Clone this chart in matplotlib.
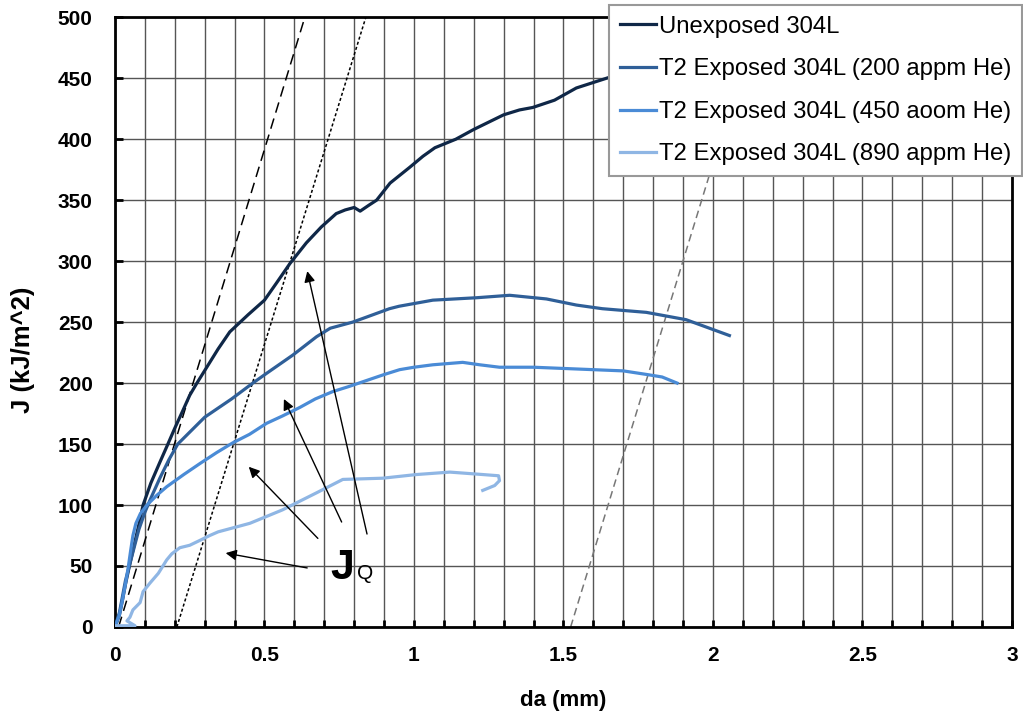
import numpy as np
import matplotlib
matplotlib.use("Agg")
import matplotlib.pyplot as plt
from matplotlib.ticker import MultipleLocator

plt.rcParams['font.family'] = ['Liberation Sans', 'DejaVu Sans']

# J-R curve data (da in mm, J in kJ/m^2)
da_unexp = [0, 0.015, 0.025, 0.035, 0.05, 0.065, 0.08, 0.094, 0.12, 0.15, 0.177, 0.2, 0.228, 0.25,
            0.274, 0.307, 0.345, 0.384, 0.445, 0.5, 0.54, 0.585, 0.64, 0.69, 0.74, 0.77, 0.80, 0.82,
            0.85, 0.875, 0.92, 0.986, 1.03, 1.07, 1.14, 1.2, 1.25, 1.3, 1.353, 1.397, 1.47, 1.543,
            1.644, 1.72]
J_unexp = [0, 10, 22, 35, 52, 68, 84, 100, 118, 135, 150, 163, 178, 190,
           200, 213, 228, 242, 256, 268, 282, 298, 315, 328, 339, 342, 344, 341,
           346, 350, 364, 377, 386, 393, 400, 408, 414, 420, 424, 426, 432, 442,
           450, 456]

da_200 = [0, 0.015, 0.025, 0.035, 0.05, 0.065, 0.08, 0.1, 0.117, 0.15, 0.18, 0.21, 0.3, 0.39, 0.461,
          0.507, 0.595, 0.674, 0.72, 0.795, 0.84, 0.918, 0.95, 1.063, 1.21, 1.32, 1.443, 1.543,
          1.63, 1.777, 1.91, 2.055]
J_200 = [0, 12, 25, 38, 52, 66, 80, 94, 104, 122, 137, 150, 172, 187, 200,
         208, 223, 238, 245, 250, 254, 261, 263, 268, 270, 272, 269, 264,
         261, 258, 252, 239]

da_450 = [0, 0.015, 0.025, 0.035, 0.045, 0.052, 0.06, 0.07, 0.085, 0.107, 0.14, 0.173, 0.23, 0.284,
          0.34, 0.394, 0.45, 0.507, 0.56, 0.618, 0.67, 0.728, 0.78, 0.84, 0.9, 0.952, 1.0, 1.063,
          1.163, 1.22, 1.286, 1.343, 1.4, 1.5, 1.6, 1.7, 1.78, 1.83, 1.88]
J_450 = [0, 10, 22, 35, 50, 62, 75, 85, 93, 100, 108, 115, 125, 134,
         143, 151, 158, 167, 173, 180, 187, 193, 197, 202, 207, 211, 213, 215,
         217, 215, 213, 213, 213, 212, 211, 210, 207, 205, 200]

da_890 = [0.0, 0.067, 0.04, 0.05, 0.06, 0.084, 0.094, 0.117, 0.145, 0.173, 0.19, 0.217, 0.25, 0.284,
          0.317, 0.345, 0.451, 0.56, 0.674, 0.762, 0.895, 1.008, 1.12, 1.23, 1.283, 1.286, 1.27, 1.23]
J_890 = [1, 1, 5, 8, 14, 20, 29, 36, 44, 55, 60, 65, 67, 71,
         75, 78, 85, 96, 110, 121, 122, 125, 127, 125, 124, 120, 116, 112]

labels = ['Unexposed 304L', 'T2 Exposed 304L (200 appm He)',
          'T2 Exposed 304L (450 aoom He)', 'T2 Exposed 304L (890 appm He)']
colors = ['#0f2747', '#2f5f98', '#4a8bd6', '#8fb6e4']

# construction lines (blunting line, 0.2 mm offset, 1.5 mm exclusion)
blunt_da, blunt_J = [0.012, 0.635], [0, 500]
off02_da, off02_J = [0.207, 0.839], [0, 500]
excl_da, excl_J = [1.524, 2.15], [0, 500]

# J_Q arrows: (head da, head J, tail da, tail J)
arrows = [(0.361, 61, 0.652, 48),
          (0.441, 133, 0.685, 71),
          (0.561, 189, 0.762, 84),
          (0.641, 294, 0.845, 74)]

fig = plt.figure(figsize=(10.23, 7.19), dpi=100)
ax = fig.add_axes([0.1124, 0.128, 0.8768, 0.848])

ax.plot(blunt_da, blunt_J, color='black', lw=1.1, dashes=(7, 4), zorder=2)
ax.plot(off02_da, off02_J, color='black', lw=1.1, dashes=(2, 1.5), zorder=2)
ax.plot(excl_da, excl_J, color='#777777', lw=1.1, dashes=(5, 3), zorder=2)

series = [(da_unexp, J_unexp), (da_200, J_200), (da_450, J_450), (da_890, J_890)]
for (x, y), c, lab in zip(series, colors, labels):
    ax.plot(x, y, color=c, lw=2.3, label=lab, zorder=3)

for hx, hy, tx, ty in arrows:
    ax.annotate('', xy=(hx, hy), xytext=(tx, ty),
                arrowprops=dict(arrowstyle='-|>', color='black', lw=1.0, mutation_scale=16),
                zorder=4)
ax.text(0.722, 39, 'J', fontsize=31, fontweight='bold', ha='left', va='baseline')
ax.text(0.81, 39, 'Q', fontsize=15, ha='left', va='baseline')

ax.set_xlim(0, 3)
ax.set_ylim(0, 500)
ax.xaxis.set_major_locator(MultipleLocator(0.5))
ax.xaxis.set_minor_locator(MultipleLocator(0.1))
ax.yaxis.set_major_locator(MultipleLocator(50))
ax.grid(which='both', axis='x', color='#555555', lw=1.0, zorder=1)
ax.grid(which='major', axis='y', color='#555555', lw=1.0, zorder=1)
ax.set_axisbelow(True)
ax.set_xticks([0, 0.5, 1, 1.5, 2, 2.5, 3])
ax.set_xticklabels(['0', '0.5', '1', '1.5', '2', '2.5', '3'])
ax.tick_params(axis='both', which='both', direction='in', width=2, color='black')
ax.tick_params(axis='x', which='both', length=5, pad=14, labelsize=15)
ax.tick_params(axis='y', which='major', length=6, pad=16, labelsize=15)
for lab in ax.get_xticklabels() + ax.get_yticklabels():
    lab.set_fontweight('bold')
for s in ax.spines.values():
    s.set_linewidth(2)
    s.set_color('black')

ax.set_xlabel('da (mm)', fontsize=16, fontweight='bold')
ax.set_ylabel('J (kJ/m^2)', fontsize=18.5, fontweight='bold')
ax.xaxis.set_label_coords(0.4995, -0.103)
ax.yaxis.set_label_coords(-0.089, 0.454)

leg = ax.legend(loc='upper right', bbox_to_anchor=(0.999, 0.993), bbox_transform=fig.transFigure,
                borderaxespad=0, fontsize=17.2, frameon=True, fancybox=False, framealpha=1,
                edgecolor='#999999', handlelength=1.5, handletextpad=0.12,
                labelspacing=0.86, borderpad=0.45)
leg.get_frame().set_linewidth(1.5)
leg.set_zorder(10)

fig.savefig('out.png', dpi=100)
